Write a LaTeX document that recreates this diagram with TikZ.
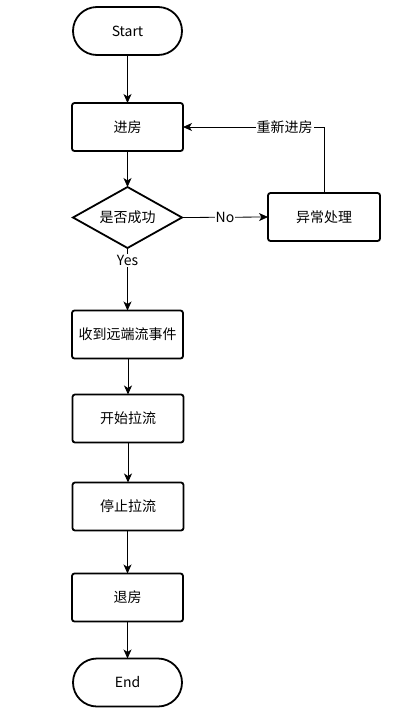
\documentclass[tikz,border=0pt]{standalone}
\usepackage{fontspec}
\setmainfont{Noto Sans CJK SC}
\usetikzlibrary{arrows.meta}
\begin{document}
\begin{tikzpicture}[x=1pt,y=-1pt,
  every node/.style={font=\fontsize{14}{16}\selectfont, inner sep=0pt, outer sep=0pt},
  procbox/.style={draw, line width=1.8pt, rounded corners=2.5pt, minimum width=111pt, minimum height=48pt},
  termbox/.style={draw, line width=1.8pt, rounded corners=24pt, minimum width=109pt, minimum height=48pt},
  conn/.style={line width=0.8pt, -{Stealth[length=9pt,width=8pt,inset=2.5pt]}},
  lbl/.style={fill=white, inner sep=1pt}
]
\useasboundingbox (0,0) rectangle (415,726);
\node[termbox] (start) at (127.5,31) {Start};
\node[procbox] (enter) at (127.5,127) {进房};
\node[minimum width=109pt, minimum height=61pt] (dec) at (127.5,217.5) {是否成功};
\draw[line width=1.8pt, line join=miter] (dec.west) -- (dec.north) -- (dec.east) -- (dec.south) -- cycle;
\node[procbox, minimum width=112pt] (err) at (324,217) {异常处理};
\node[procbox] (recv) at (127.5,334.5) {收到远端流事件};
\node[procbox] (startpull) at (128,418.5) {开始拉流};
\node[procbox] (stoppull) at (128,506.5) {停止拉流};
\node[procbox] (exit) at (127.5,597.5) {退房};
\node[termbox] (endn) at (127.5,682.5) {End};

\draw[conn] (start) -- (enter);
\draw[conn] (enter) -- (dec.north);
\draw[conn] (dec.east) -- node[lbl] {No} (err.west);
\draw[conn] (err.north) |- node[lbl, pos=0.64] {重新进房} (enter.east);
\draw[conn] (dec.south) -- node[lbl, pos=0.2] {Yes} (recv.north -| dec.south);
\draw[conn] (recv.south -| startpull.north) -- (startpull.north);
\draw[conn] (startpull) -- (stoppull);
\draw[conn] (stoppull.south -| exit.north) -- (exit);
\draw[conn] (exit) -- (endn);
\end{tikzpicture}
\end{document}
